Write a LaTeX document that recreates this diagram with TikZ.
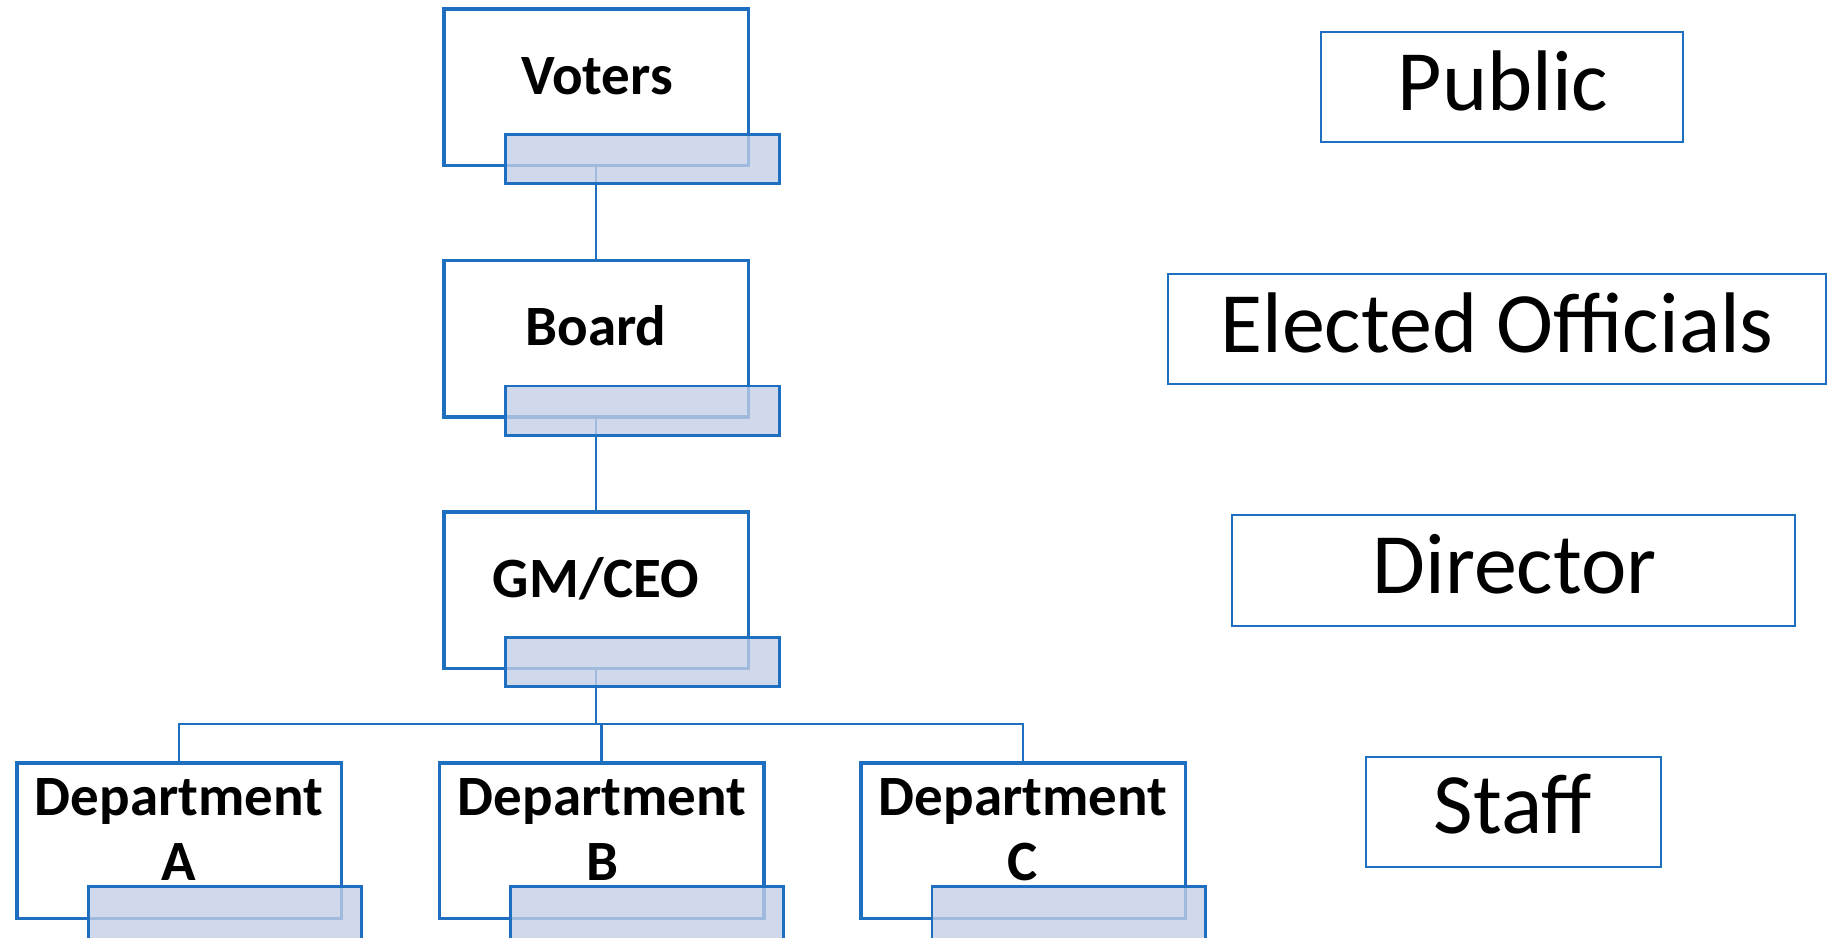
\documentclass[tikz,border=0pt]{standalone}
\usepackage{fontspec}
\setmainfont{Carlito}
\definecolor{orgblue}{RGB}{31,111,192}
\definecolor{shadefill}{RGB}{195,207,231}
\begin{document}
\begin{tikzpicture}[x=1pt,y=-1pt,
  outerbox/.style={draw=orgblue,line width=3.5pt,minimum width=304.5pt,minimum height=156.5pt,inner sep=0pt,outer sep=0pt},
  deptbox/.style={outerbox,minimum width=324.5pt,minimum height=155.5pt},
  shadebox/.style={draw=orgblue,line width=2.8pt,fill=shadefill,fill opacity=0.79,minimum width=274.2pt,minimum height=49.2pt,inner sep=0pt,outer sep=0pt},
  deptshade/.style={shadebox,minimum width=273.2pt,minimum height=60pt},
  conn/.style={draw=orgblue,line width=2.4pt},
  tierbox/.style={draw=orgblue,line width=1.9pt,inner sep=0pt,outer sep=0pt},
  orgtext/.style={font=\fontsize{57}{65}\selectfont\bfseries,align=center,anchor=base,inner sep=0pt},
  tiertext/.style={font=\fontsize{86}{100}\selectfont,anchor=base,inner sep=0pt}]
\useasboundingbox (0,0) rectangle (1835,937);

% outer boxes
\node[outerbox] (voters) at (596,87) {};
\node[outerbox] (board) at (596,338.5) {};
\node[outerbox] (gm) at (596,590) {};
\node[deptbox] (depta) at (179,840.5) {};
\node[deptbox] (deptb) at (601.5,840.5) {};
\node[deptbox] (deptc) at (1023,840.5) {};

% connectors
\coordinate (bus) at (596,724);
\draw[conn] (voters.south) -- (board.north);
\draw[conn] (board.south) -- (gm.north);
\draw[conn] (gm.south) -- (bus);
\draw[conn] (depta.north) |- (deptc.north |- bus) -- (deptc.north);
\draw[conn] (deptb.north) -- (deptb.north |- bus);

% shaded boxes
\node[shadebox] (votersshade) at (642.5,159) {};
\node[shadebox] (boardshade) at (642.5,410.5) {};
\node[shadebox] (gmshade) at (642.5,662) {};
\node[deptshade] (deptashade) at (225,916.3) {};
\node[deptshade] (deptbshade) at (647,916.3) {};
\node[deptshade] (deptcshade) at (1068.5,916.3) {};

% org texts
\node[orgtext] (voterstext) at (597,94) {Voters};
\node[orgtext] (boardtext) at (596,345.5) {Board};
\node[orgtext] (gmtext) at (596,597) {GM/CEO};
\node[orgtext] (deptatext) at (179,880) {Department\\A};
\node[orgtext] (deptbtext) at (602,880) {Department\\B};
\node[orgtext] (deptctext) at (1023,880) {Department\\C};

% tier boxes
\node[tierbox,minimum width=362pt,minimum height=110pt] (public) at (1502,87) {};
\node[tierbox,minimum width=658pt,minimum height=110pt] (elected) at (1497,329) {};
\node[tierbox,minimum width=563pt,minimum height=111pt] (director) at (1513.5,570.5) {};
\node[tierbox,minimum width=295pt,minimum height=110pt] (staff) at (1513.5,812) {};

\node[tiertext] (publictext) at (1503,110) {Public};
\node[tiertext] (electedtext) at (1497,352) {Elected Officials};
\node[tiertext] (directortext) at (1514.5,593) {Director};
\node[tiertext] (stafftext) at (1513,833) {Staff};
\end{tikzpicture}
\end{document}
